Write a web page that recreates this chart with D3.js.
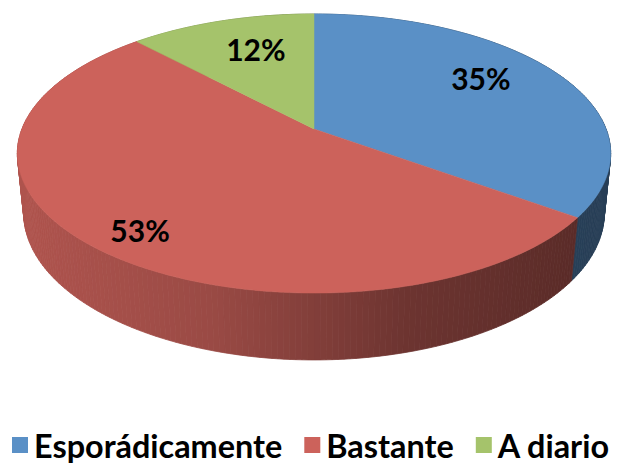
<!DOCTYPE html>
<html>
<head>
<meta charset="utf-8">
<script src="https://cdn.jsdelivr.net/npm/d3@7"></script>
<style>
  body { margin: 0; background: #fff; }
  text { font-family: Lato, "Open Sans", sans-serif; font-weight: bold; }
</style>
</head>
<body>
<script>
// data
let categories = ['Esporádicamente', 'Bastante', 'A diario'];
let values = [35, 53, 12];
let labels = ['35%', '53%', '12%'];
let colors = ['#5a90c6', '#cc625b', '#a5c36b'];

let width = 625;
let height = 469;

let svg = d3.select('body').append('svg')
    .attr('width', width)
    .attr('height', height);

// perspective camera for the 3d pie
let cx = 314, cy = 129;
let focal = 1472, dist = 5.04;
let sinT = 0.463, cosT = 0.886;
let thick = 0.232;

function project(angle, r, z) {
    let X = r * Math.sin(angle);
    let Y = r * Math.cos(angle);
    let up = Y * sinT + z * cosT;
    let depth = dist + Y * cosT - z * sinT;
    return {x: cx + focal * X / depth, y: cy - focal * up / depth, depth: depth};
}

let pie = d3.pie().sort(null).value(d => d)(values);

let line = d3.line().x(d => d.x).y(d => d.y);

// wall shading follows screen x (light comes from the left)
let shade = d3.scaleLinear()
    .domain([20, 210, 410, 590])
    .range([0.86, 0.755, 0.53, 0.44])
    .clamp(true);

function wallColor(d) {
    let c = d3.rgb(colors[d.slice]);
    let k = shade(d.x);
    return d3.rgb(c.r * k, c.g * k, c.b * k);
}

// side wall, split in thin pieces, far pieces first
let step = Math.PI / 180;
let pieces = [];
pie.forEach((s, i) => {
    for (let a = s.startAngle; a < s.endAngle - 1e-9; a += step) {
        let b = Math.min(a + step, s.endAngle);
        let pts = [project(a, 1, 0), project(b, 1, 0), project(b, 1, -thick), project(a, 1, -thick)];
        let mid = project((a + b) / 2, 1, 0);
        pieces.push({pts: pts, depth: mid.depth, x: mid.x, slice: i});
    }
});
pieces.sort((p, q) => q.depth - p.depth);

svg.append('g').selectAll('path')
    .data(pieces)
    .join('path')
    .attr('d', d => line(d.pts) + 'Z')
    .attr('fill', wallColor)
    .attr('stroke', wallColor)
    .attr('stroke-width', 0.8);

// top faces
svg.append('g').selectAll('path')
    .data(pie)
    .join('path')
    .attr('d', s => {
        let pts = [project(0, 0, 0)];
        let n = Math.ceil((s.endAngle - s.startAngle) / step);
        for (let k = 0; k <= n; k++) {
            pts.push(project(s.startAngle + (s.endAngle - s.startAngle) * k / n, 1, 0));
        }
        return line(pts) + 'Z';
    })
    .attr('fill', (_, i) => colors[i])
    .attr('stroke', (_, i) => colors[i])
    .attr('stroke-width', 0.5);

// percentage labels (radius and angle nudge per slice, like excel places them)
let labelRadius = [0.733, 0.844, 0.696];
let labelNudge = [-6.4, -2.8, 3].map(d => d * Math.PI / 180);
function labelPos(s, i) {
    return project((s.startAngle + s.endAngle) / 2 + labelNudge[i], labelRadius[i], 0);
}
svg.append('g').selectAll('text')
    .data(pie)
    .join('text')
    .attr('x', (s, i) => labelPos(s, i).x)
    .attr('y', (s, i) => labelPos(s, i).y)
    .attr('text-anchor', 'middle')
    .attr('dominant-baseline', 'central')
    .attr('font-size', 30)
    .attr('fill', '#000')
    .text((_, i) => labels[i]);

// legend
let legend = svg.append('g').attr('transform', 'translate(12,445)');
let lx = 0;
categories.forEach((c, i) => {
    let g = legend.append('g').attr('transform', `translate(${lx},0)`);
    g.append('rect')
        .attr('x', 0).attr('y', -8)
        .attr('width', 16).attr('height', 16)
        .attr('fill', colors[i]);
    let t = g.append('text')
        .attr('x', 22)
        .attr('y', 0)
        .attr('dominant-baseline', 'central')
        .attr('font-size', 32.4)
        .attr('fill', '#000')
        .text(c);
    lx += 22 + t.node().getComputedTextLength() + 22;
});
</script>
</body>
</html>
